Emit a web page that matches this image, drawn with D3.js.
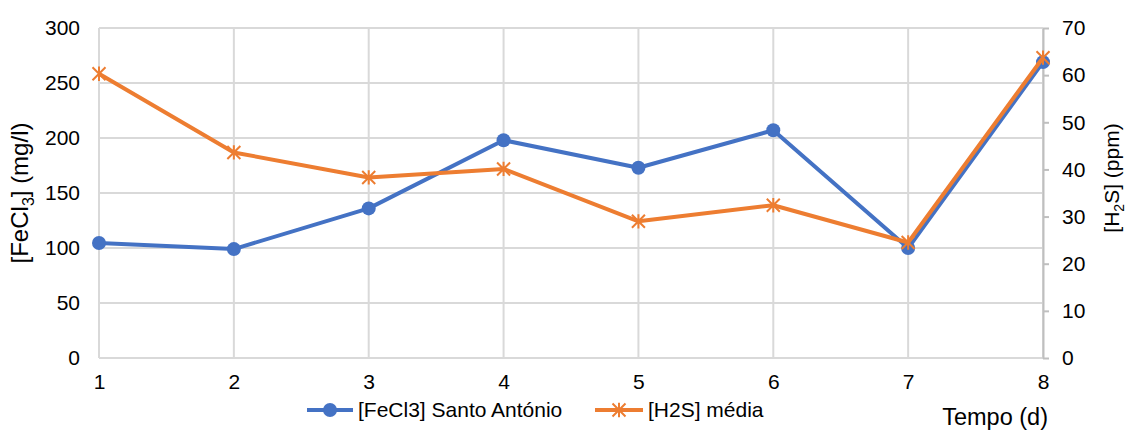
<!DOCTYPE html>
<html>
<head>
<meta charset="utf-8">
<script src="https://d3js.org/d3.v7.min.js"></script>
<style>
  body { margin: 0; background: #fff; }
  svg text { font-family: "Liberation Sans", Arial, sans-serif; fill: #000; }
</style>
</head>
<body>
<div id="chart"></div>
<script>
// data
const days = [1, 2, 3, 4, 5, 6, 7, 8];
const fecl3 = [104.5, 99, 136, 198, 173, 207, 100, 269];
const h2s = [60.3, 43.6, 38.3, 40.1, 29, 32.4, 24.5, 63.7];
const leftTicks = [0, 50, 100, 150, 200, 250, 300];
const rightTicks = [0, 10, 20, 30, 40, 50, 60, 70];

const width = 1129, height = 430;
const margin = { top: 28, right: 86, bottom: 72, left: 99 };
const blue = "#4472C4", orange = "#ED7D31", grid = "#D9D9D9";
const fs = 21;
const ff = "Liberation Sans, Arial, sans-serif";

const svg = d3.select("#chart").append("svg")
  .attr("width", width).attr("height", height);

const x = d3.scaleLinear().domain([1, 8]).range([margin.left, width - margin.right]);
const yL = d3.scaleLinear().domain([0, 300]).range([height - margin.bottom, margin.top]);
const yR = d3.scaleLinear().domain([0, 70]).range([height - margin.bottom, margin.top]);

// horizontal gridlines
svg.append("g").selectAll("line").data(leftTicks).join("line")
  .attr("x1", x(1)).attr("x2", x(8))
  .attr("y1", d => yL(d)).attr("y2", d => yL(d))
  .attr("stroke", grid).attr("stroke-width", 2);

// vertical gridlines
svg.append("g").selectAll("line").data(days).join("line")
  .attr("x1", d => x(d)).attr("x2", d => x(d))
  .attr("y1", yL(0)).attr("y2", yL(300))
  .attr("stroke", grid).attr("stroke-width", 2);

// left axis labels
const axL = svg.append("g")
  .attr("transform", `translate(${margin.left},0)`)
  .call(d3.axisLeft(yL).tickValues(leftTicks).tickSize(0).tickPadding(19));
axL.select(".domain").remove();
axL.selectAll("text").attr("font-size", fs).style("font-family", ff);

// right axis
const axR = svg.append("g")
  .attr("transform", `translate(${x(8)},0)`)
  .call(d3.axisRight(yR).tickValues(rightTicks).tickSize(6).tickPadding(13).tickSizeOuter(0));
axR.select(".domain").attr("stroke", "#BFBFBF").attr("stroke-width", 2);
axR.selectAll(".tick line").attr("stroke", "#BFBFBF").attr("stroke-width", 2);
axR.selectAll("text").attr("font-size", fs).style("font-family", ff);

// bottom axis labels
const axB = svg.append("g")
  .attr("transform", `translate(0,${yL(0)})`)
  .call(d3.axisBottom(x).tickValues(days).tickFormat(d3.format("d")).tickSize(0).tickPadding(16));
axB.select(".domain").remove();
axB.selectAll("text").attr("font-size", fs).style("font-family", ff);

// lines
const lineL = d3.line().x((d, i) => x(days[i])).y(d => yL(d));
const lineR = d3.line().x((d, i) => x(days[i])).y(d => yR(d));

svg.append("path").datum(fecl3).attr("d", lineL)
  .attr("fill", "none").attr("stroke", blue).attr("stroke-width", 4).attr("stroke-linejoin", "round");
svg.append("g").selectAll("circle").data(fecl3).join("circle")
  .attr("cx", (d, i) => x(days[i])).attr("cy", d => yL(d)).attr("r", 7).attr("fill", blue);

svg.append("path").datum(h2s).attr("d", lineR)
  .attr("fill", "none").attr("stroke", orange).attr("stroke-width", 4).attr("stroke-linejoin", "round");

function star(g, cx, cy, s) {
  const p = `M${cx - s},${cy - s}L${cx + s},${cy + s}M${cx - s},${cy + s}L${cx + s},${cy - s}M${cx},${cy - s * 1.1}L${cx},${cy + s * 1.1}`;
  g.append("path").attr("d", p).attr("stroke", orange).attr("stroke-width", 2).attr("fill", "none");
}
const stars = svg.append("g");
h2s.forEach((d, i) => star(stars, x(days[i]), yR(d), 6.5));

// axis titles
const tL = svg.append("text")
  .attr("transform", "translate(28,193) rotate(-90)")
  .attr("text-anchor", "middle").attr("font-size", 24);
tL.append("tspan").text("[FeCl");
tL.append("tspan").attr("font-size", 16).attr("dy", 6).text("3");
tL.append("tspan").attr("dy", -6).text("] (mg/l)");

const tR = svg.append("text")
  .attr("transform", "translate(1119,178) rotate(-90)")
  .attr("text-anchor", "middle").attr("font-size", fs);
tR.append("tspan").text("[H");
tR.append("tspan").attr("font-size", 14).attr("dy", 5).text("2");
tR.append("tspan").attr("dy", -5).text("S] (ppm)");

svg.append("text").attr("x", 1048).attr("y", 425).attr("text-anchor", "end")
  .attr("font-size", 23.5).text("Tempo (d)");

// legend
const legend = [
  { label: "[FeCl3] Santo António", color: blue, x0: 307, x1: 353, type: "circle" },
  { label: "[H2S] média", color: orange, x0: 595, x1: 643, type: "star" }
];
const ly = 410;
legend.forEach(l => {
  svg.append("line").attr("x1", l.x0).attr("x2", l.x1).attr("y1", ly).attr("y2", ly)
    .attr("stroke", l.color).attr("stroke-width", 4);
  const cx = (l.x0 + l.x1) / 2;
  if (l.type === "circle") {
    svg.append("circle").attr("cx", cx).attr("cy", ly).attr("r", 7).attr("fill", l.color);
  } else {
    star(svg, cx, ly, 6.5);
  }
  svg.append("text").attr("x", l.x1 + 5).attr("y", ly + 7).attr("font-size", fs).text(l.label);
});
</script>
</body>
</html>
